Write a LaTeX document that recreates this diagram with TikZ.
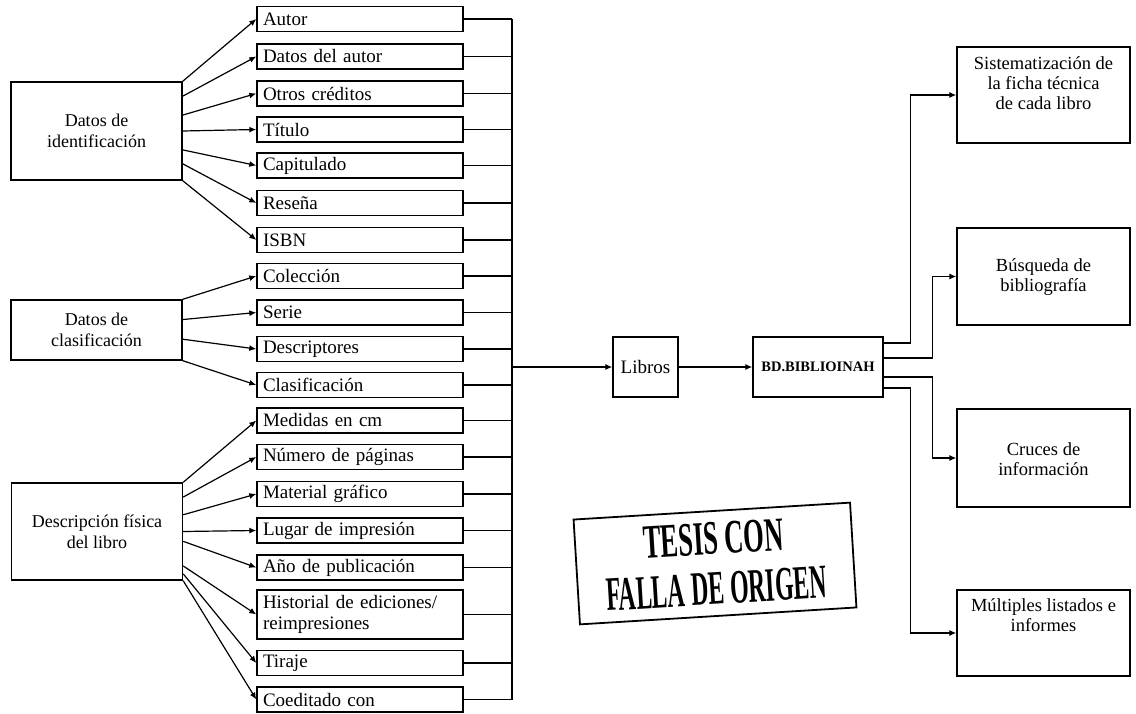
\documentclass[tikz,border=0pt]{standalone}
\usepackage{fontspec}
\setmainfont{Liberation Serif}
\usetikzlibrary{arrows.meta,calc}
\begin{document}
\begin{tikzpicture}[x=1pt,y=-1pt,
  box/.style={draw, line width=1.4pt, inner sep=0pt},
  srcbox/.style={box, minimum width=171pt, align=center,
    font=\fontsize{18}{21}\selectfont},
  itembox/.style={box, minimum width=206pt, minimum height=25pt,
    text width=194pt, inner xsep=6pt, align=left,
    font=\fontsize{19}{21}\selectfont},
  outbox/.style={box, minimum width=173pt},
  outtext/.style={align=center, inner sep=0pt,
    font=\fontsize{18.5}{20}\selectfont},
  link/.style={line width=1.2pt},
  arr/.style={link, -{Latex[length=7pt,width=6pt]}},
  stampbox/.style={draw, line width=1.8pt, minimum width=277pt,
    minimum height=105pt, inner sep=0pt, align=center,
    font=\fontsize{48}{50}\selectfont\bfseries}]

\useasboundingbox (0,0) rectangle (1136,714);

% source groups
\node[srcbox, minimum height=98pt] (idL) at (96.5,131) {Datos de\\identificación};
\node[srcbox, minimum height=60pt] (clL) at (96.5,330) {Datos de\\clasificación};
\node[srcbox, minimum height=97pt] (dfL) at (97,531.5) {Descripción física\\del libro};

% record fields
\node[itembox] (a1) at (360,19)    {Autor};
\node[itembox] (a2) at (360,56.5)  {Datos del autor};
\node[itembox] (a3) at (360,93.5)  {Otros créditos};
\node[itembox] (a4) at (360,129.5) {Título};
\node[itembox] (a5) at (360,165.5) {Capitulado};
\node[itembox] (a6) at (360,203)   {Reseña};
\node[itembox] (a7) at (360,240)   {ISBN};
\node[itembox] (b1) at (360,276)   {Colección};
\node[itembox] (b2) at (360,312.5) {Serie};
\node[itembox] (b3) at (360,349)   {Descriptores};
\node[itembox] (b4) at (360,385)   {Clasificación};
\node[itembox] (c1) at (360,420.5) {Medidas en cm};
\node[itembox] (c2) at (360,457)   {Número de páginas};
\node[itembox] (c3) at (360,494)   {Material gráfico};
\node[itembox] (c4) at (360,530.5) {Lugar de impresión};
\node[itembox] (c5) at (360,567.5) {Año de publicación};
\node[itembox, minimum height=49pt] (c6) at (360,614.5) {Historial de ediciones/\\reimpresiones};
\node[itembox] (c7) at (360,663)   {Tiraje};
\node[itembox] (c8) at (360,699.5) {Coeditado con};

% fan-out arrows from each group
\foreach \t/\n in {0/a1,0.15/a2,0.34/a3,0.5/a4,0.69/a5,0.83/a6,1/a7}
  \draw[arr] ($(idL.north east)!\t!(idL.south east)$) -- (\n.west);
\foreach \t/\n in {0/b1,0.33/b2,0.65/b3,1/b4}
  \draw[arr] ($(clL.north east)!\t!(clL.south east)$) -- (\n.west);
\foreach \t/\n in {0/c1,0.15/c2,0.33/c3,0.5/c4,0.6/c5,0.85/c6,0.93/c7,1/c8}
  \draw[arr] ($(dfL.north east)!\t!(dfL.south east)$) -- (\n.west);

% collecting bus
\coordinate (busx) at (512,0);
\foreach \n in {a1,a2,a3,a4,a5,a6,a7,b1,b2,b3,b4,c1,c2,c3,c4,c5,c6,c7,c8}
  \draw[link] (\n.east) -- (\n.east -| busx);
\draw[link] (a1.east -| busx) -- (c8.east -| busx);

% central chain
\node[box, minimum width=65pt, minimum height=60pt,
  font=\fontsize{19}{21}\selectfont] (lib) at (645.5,367) {Libros};
\node[box, minimum width=130pt, minimum height=60pt,
  font=\fontsize{14.5}{16}\selectfont\bfseries] (bd) at (818,367) {BD.BIBLIOINAH};
\draw[arr] (lib.west -| busx) -- (lib.west);
\draw[arr] (lib.east) -- (bd.west);

% outputs
\node[outbox, minimum height=96pt] (o1) at (1043.5,95) {};
\node[outtext] (o1t) at (1043.5,83) {Sistematización de\\la ficha técnica\\de cada libro};
\node[outbox, minimum height=97pt] (o2) at (1043.5,276.5) {};
\node[outtext] (o2t) at (1043.5,277) {Búsqueda de\\bibliografía};
\node[outbox, minimum height=98pt] (o3) at (1043.5,458) {};
\node[outtext] (o3t) at (1043.5,459) {Cruces de\\información};
\node[outbox, minimum height=86pt] (o4) at (1043.5,633) {};
\node[outtext] (o4t) at (1043.5,615) {Múltiples listados e\\informes};

\draw[arr] ($(bd.east)+(0,-24)$) -| ($(o1.west)+(-46,0)$) -- (o1.west);
\draw[arr] ($(bd.east)+(0,-9)$)  -| ($(o2.west)+(-24,0)$) -- (o2.west);
\draw[arr] ($(bd.east)+(0,10)$)  -| ($(o3.west)+(-24,0)$) -- (o3.west);
\draw[arr] ($(bd.east)+(0,21)$)  -| ($(o4.west)+(-46,0)$) -- (o4.west);

% rubber stamp
\node[stampbox, rotate=3.5] (stamp) at (715,563.5)
  {\scalebox{0.553}[1]{TESIS CON}\\\scalebox{0.498}[1]{FALLA DE ORIGEN}};

\end{tikzpicture}
\end{document}
